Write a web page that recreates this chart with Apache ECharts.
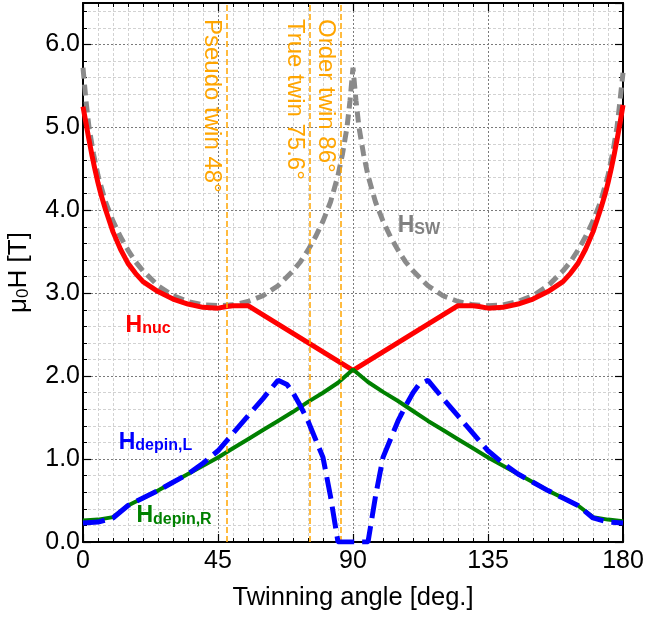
<!DOCTYPE html>
<html>
<head>
<meta charset="utf-8">
<script src="https://cdn.jsdelivr.net/npm/echarts@6.0.0/dist/echarts.min.js"></script>
<style>
html,body{margin:0;padding:0;background:#ffffff;}
#chart{width:647px;height:623px;}
</style>
</head>
<body>
<div id="chart"></div>
<script>
// ---------------- data ----------------
const xTicks = [0, 45, 90, 135, 180];
const yTicks = [0, 1, 2, 3, 4, 5, 6];

const nucAngles = [0, 1, 2, 3, 4, 5, 6, 7.5, 10, 12.5, 15, 17.5, 20, 25, 30, 35, 40, 45, 48, 50, 55, 90, 125, 130, 132, 135, 140, 145, 150, 155, 160, 162.5, 165, 167.5, 170, 172.5, 174, 175, 176, 177, 178, 179, 180];
const nucValues = [5.25, 5.05, 4.85, 4.66, 4.49, 4.33, 4.19, 4.01, 3.74, 3.53, 3.36, 3.24, 3.14, 3.02, 2.93, 2.87, 2.83, 2.82, 2.84, 2.85, 2.85, 2.07, 2.85, 2.85, 2.84, 2.82, 2.83, 2.87, 2.93, 3.02, 3.14, 3.24, 3.36, 3.53, 3.74, 4.01, 4.19, 4.33, 4.49, 4.66, 4.85, 5.05, 5.27];

const swAngles = [0, 1, 2, 3.5, 5, 7.5, 10, 12.5, 15, 17.5, 20, 25, 30, 35, 40, 45, 50, 55, 60, 65, 70, 72.5, 75, 77.5, 80, 82.5, 85, 86.5, 88, 89, 90, 91, 92, 93.5, 95, 97.5, 100, 102.5, 105, 107.5, 110, 115, 120, 125, 130, 135, 140, 145, 150, 155, 160, 162.5, 165, 167.5, 170, 172.5, 175, 176.5, 178, 179, 180];
const swValues = [5.72, 5.32, 5.00, 4.68, 4.42, 4.10, 3.87, 3.68, 3.52, 3.38, 3.27, 3.09, 2.97, 2.90, 2.86, 2.85, 2.86, 2.90, 2.97, 3.09, 3.27, 3.38, 3.52, 3.68, 3.87, 4.10, 4.42, 4.68, 5.00, 5.32, 5.72, 5.32, 5.00, 4.68, 4.42, 4.10, 3.87, 3.68, 3.52, 3.38, 3.27, 3.09, 2.97, 2.90, 2.86, 2.85, 2.86, 2.90, 2.97, 3.09, 3.27, 3.38, 3.52, 3.68, 3.87, 4.10, 4.42, 4.68, 5.00, 5.32, 5.66];

const depinLAngles = [0, 5, 10, 15, 20, 25, 30, 35, 40, 45, 50, 55, 60, 65, 68, 70, 72.5, 75, 77.5, 80, 82.5, 85, 95, 97.5, 100, 102.5, 105, 107.5, 110, 112, 115, 120, 125, 130, 135, 140, 145, 150, 155, 160, 165, 170, 175, 180];
const depinLValues = [0.23, 0.24, 0.29, 0.44, 0.53, 0.62, 0.72, 0.82, 0.95, 1.10, 1.31, 1.52, 1.73, 1.95, 1.90, 1.80, 1.64, 1.46, 1.24, 1.02, 0.55, 0.00, 0.00, 0.55, 1.02, 1.24, 1.46, 1.64, 1.80, 1.90, 1.95, 1.73, 1.52, 1.31, 1.10, 0.95, 0.82, 0.72, 0.62, 0.53, 0.44, 0.29, 0.24, 0.23];

const depinRAngles = [0, 5, 10, 15, 20, 25, 30, 35, 40, 45, 50, 55, 60, 65, 70, 75, 80, 85, 90, 95, 100, 105, 110, 115, 120, 125, 130, 135, 140, 145, 150, 155, 160, 165, 170, 175, 180];
const depinRValues = [0.26, 0.27, 0.30, 0.44, 0.53, 0.62, 0.72, 0.82, 0.92, 1.02, 1.13, 1.24, 1.35, 1.46, 1.57, 1.69, 1.80, 1.92, 2.08, 1.93, 1.81, 1.70, 1.58, 1.46, 1.35, 1.24, 1.13, 1.02, 0.92, 0.82, 0.72, 0.62, 0.53, 0.44, 0.30, 0.27, 0.25];

const twinAngles = [48, 75.6, 86];
const twinLabels = ['Pseudo twin 48°', 'True twin 75.6°', 'Order twin 86°'];

// ---------------- chart ----------------
const FONT = "'Liberation Sans', Arial, Helvetica, sans-serif";
const zip = (a, b) => a.map((v, i) => [v, b[i]]);

const chart = echarts.init(document.getElementById('chart'), null, {renderer: 'canvas'});

const majorGrid = {show: true, lineStyle: {color: '#7a7a7a', type: [2, 2], width: 1}};
const minorGridColor = '#d2d2d2';

const xBase = {
  type: 'value', min: 0, max: 180, interval: 45,
  axisLine: {show: true, onZero: false, lineStyle: {color: '#000', width: 2}},
  axisTick: {show: true, inside: true, length: 8, lineStyle: {color: '#000', width: 1.2}},
  minorTick: {show: true, splitNumber: 9, length: 4, lineStyle: {color: '#000', width: 1}}
};

const option = {
  animation: false,
  backgroundColor: '#ffffff',
  grid: {left: 83, right: 24, top: 3, bottom: 81, containLabel: false, outerBoundsMode: 'none'},
  xAxis: [
    Object.assign({}, xBase, {
      position: 'bottom',
      axisLabel: {show: true, fontSize: 25, color: '#000', fontFamily: FONT, margin: 7,
        formatter: v => xTicks.includes(v) ? String(v) : ''},
      splitLine: majorGrid,
      minorSplitLine: {show: true, lineStyle: {color: minorGridColor, type: [3, 2], width: 1}},
      name: 'Twinning angle [deg.]', nameLocation: 'middle', nameGap: 43,
      nameTextStyle: {fontSize: 25.5, color: '#000', fontFamily: FONT}
    }),
    Object.assign({}, xBase, {
      position: 'top',
      axisLabel: {show: false},
      splitLine: {show: false},
      minorSplitLine: {show: false}
    })
  ],
  yAxis: [
    {
      type: 'value', position: 'left', min: 0, max: 6.5, interval: 1,
      axisLine: {show: true, onZero: false, lineStyle: {color: '#000', width: 2}},
      axisTick: {show: true, inside: true, length: 8, lineStyle: {color: '#000', width: 1.2}},
      axisLabel: {show: true, fontSize: 25, color: '#000', fontFamily: FONT, margin: 3,
        showMaxLabel: false,
        formatter: v => yTicks.includes(Math.round(v * 100) / 100) ? v.toFixed(1) : ''},
      splitLine: majorGrid,
      name: '{a|μ}{b|0}{a|H [T]}', nameLocation: 'middle', nameGap: 51,
      nameTextStyle: {
        fontSize: 26, color: '#000', fontFamily: FONT,
        rich: {
          a: {fontSize: 26, fontFamily: FONT, color: '#000', lineHeight: 28, verticalAlign: 'bottom'},
          b: {fontSize: 17, fontFamily: FONT, color: '#000', lineHeight: 14, verticalAlign: 'bottom'}
        }
      }
    },
    {
      type: 'value', position: 'left', min: 0, max: 6.5, interval: 0.2,
      axisLine: {show: false, onZero: false},
      axisTick: {show: true, inside: true, length: 4, lineStyle: {color: '#000', width: 1}},
      axisLabel: {show: false},
      splitLine: {show: true, lineStyle: {color: ['rgba(0,0,0,0)', minorGridColor, minorGridColor, minorGridColor, minorGridColor], type: [3, 2], width: 1}}
    },
    {
      type: 'value', position: 'right', min: 0, max: 6.5, interval: 1,
      axisLine: {show: true, onZero: false, lineStyle: {color: '#000', width: 2}},
      axisTick: {show: true, inside: true, length: 8, lineStyle: {color: '#000', width: 1.2}},
      axisLabel: {show: false},
      splitLine: {show: false}
    },
    {
      type: 'value', position: 'right', min: 0, max: 6.5, interval: 0.2,
      axisLine: {show: false, onZero: false},
      axisTick: {show: true, inside: true, length: 4, lineStyle: {color: '#000', width: 1}},
      axisLabel: {show: false},
      splitLine: {show: false}
    }
  ],
  series: [
    {
      name: 'H_SW', type: 'line', xAxisIndex: 0, yAxisIndex: 0,
      data: zip(swAngles, swValues), showSymbol: false, symbol: 'none', smooth: false,
      lineStyle: {color: '#8a8a8a', width: 5, type: [11, 6], cap: 'butt'},
      z: 2,
      markLine: {
        silent: true, symbol: ['none', 'none'], animation: false,
        label: {show: false},
        lineStyle: {color: '#FFA500', type: [6, 3], width: 1.5},
        data: twinAngles.map(a => ({xAxis: a}))
      }
    },
    {
      name: 'H_nuc', type: 'line', xAxisIndex: 0, yAxisIndex: 0,
      data: zip(nucAngles, nucValues), showSymbol: false, symbol: 'none', smooth: false,
      lineStyle: {color: '#ff0000', width: 5}, z: 3
    },
    {
      name: 'H_depin,R', type: 'line', xAxisIndex: 0, yAxisIndex: 0,
      data: zip(depinRAngles, depinRValues), showSymbol: false, symbol: 'none', smooth: false,
      lineStyle: {color: '#008000', width: 4}, z: 4
    },
    {
      name: 'H_depin,L', type: 'line', xAxisIndex: 0, yAxisIndex: 0,
      data: zip(depinLAngles, depinLValues), showSymbol: false, symbol: 'none', smooth: false,
      lineStyle: {color: '#0000ff', width: 5, type: [22, 8], cap: 'butt'}, z: 5
    }
  ]
};

chart.setOption(option);

// ---------------- annotations positioned through the axes ----------------
const toPx = (x, y) => chart.convertToPixel({xAxisIndex: 0, yAxisIndex: 0}, [x, y]);

const curveLabels = [
  {sub: 'nuc', color: '#ff0000', at: [14.2, 2.62]},
  {sub: 'SW', color: '#808080', at: [104.9, 3.82]},
  {sub: 'depin,L', color: '#0000ff', at: [11.9, 1.21]},
  {sub: 'depin,R', color: '#008000', at: [17.8, 0.32]}
];

const graphics = [];
twinAngles.forEach((a, i) => {
  const top = toPx(a, 6.5);
  graphics.push({
    type: 'text', x: top[0] - 15, y: top[1] + 16, rotation: -Math.PI / 2, z: 10,
    style: {text: twinLabels[i], fill: '#FFA500', font: '24px ' + FONT,
      textAlign: 'left', textVerticalAlign: 'middle'}
  });
});
curveLabels.forEach(l => {
  const p = toPx(l.at[0], l.at[1]);
  graphics.push({
    type: 'text', x: p[0], y: p[1], z: 10,
    style: {
      text: '{h|H}{s|' + l.sub + '}', textAlign: 'left', textVerticalAlign: 'middle',
      rich: {
        h: {fontSize: 23, fontWeight: 'bold', fontFamily: FONT, fill: l.color, color: l.color, lineHeight: 24, verticalAlign: 'bottom'},
        s: {fontSize: 16, fontWeight: 'bold', fontFamily: FONT, fill: l.color, color: l.color, lineHeight: 13, verticalAlign: 'bottom'}
      }
    }
  });
});
chart.setOption({graphic: graphics});
</script>
</body>
</html>
